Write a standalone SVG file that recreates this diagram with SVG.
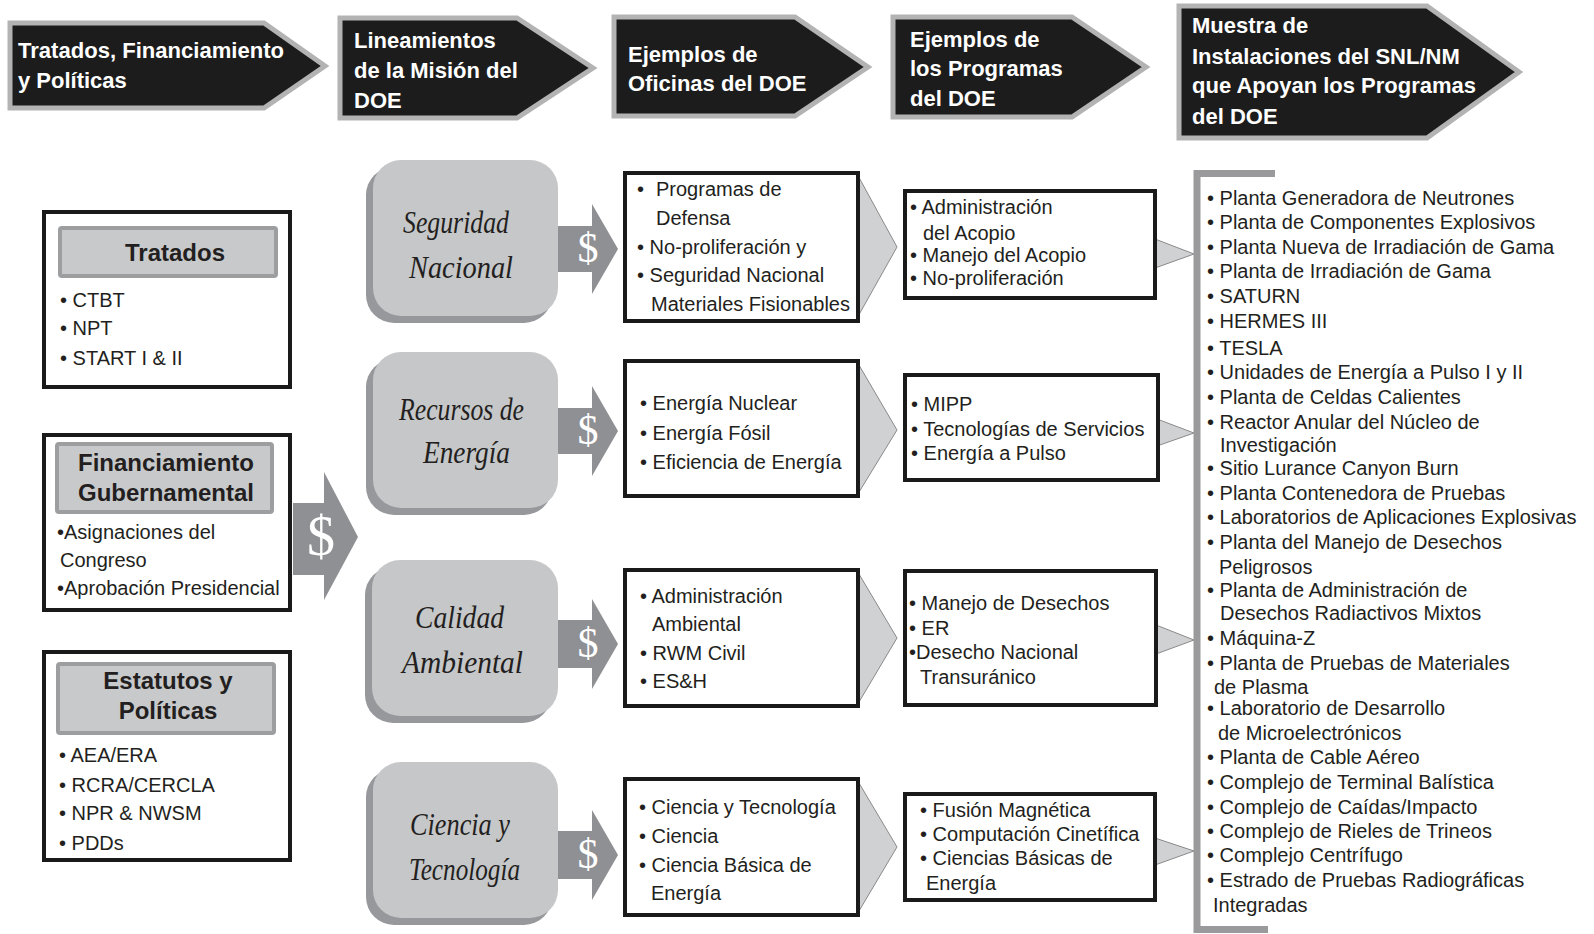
<svg xmlns="http://www.w3.org/2000/svg" width="1594" height="934" viewBox="0 0 1594 934">
<style>
.hdr{font-family:"Liberation Sans",Arial,sans-serif;font-weight:bold;font-size:22px;fill:#fff}
.hdrbox{fill:#1c1c1c;stroke:#b3b3b3;stroke-width:5;stroke-linejoin:miter}
.t{font-family:"Liberation Sans",Arial,sans-serif;font-size:20px;fill:#231f20}
.hb{font-family:"Liberation Sans",Arial,sans-serif;font-weight:bold;font-size:24px;fill:#231f20;text-anchor:middle}
.mis{font-family:"Liberation Serif","Times New Roman",serif;font-style:italic;font-size:32px;fill:#231f20}
.dol{font-family:"Liberation Serif","Times New Roman",serif;fill:#fff;text-anchor:middle}
.box{fill:#fff;stroke:#1a1a1a;stroke-width:4}
.hbox{fill:#c8c9cb;stroke:#9d9ea0;stroke-width:4}
.face{fill:#c6c7c9}
.shadow{fill:#97989b}
.arr{fill:#8f9093}
.tri{fill:#d0d1d3;stroke:#8a8a8a;stroke-width:1}
</style>

<!-- Header arrows -->
<g id="hdr1">
<polygon class="hdrbox" points="10,23 264,23 325,66 264,108 10,108"/>
<text class="hdr" x="18" y="58" textLength="266" lengthAdjust="spacingAndGlyphs">Tratados, Financiamiento</text>
<text class="hdr" x="18" y="88">y Políticas</text>
</g>
<g id="hdr2">
<polygon class="hdrbox" points="340,18 517,18 593,68 517,118 340,118"/>
<text class="hdr" x="354" y="48">Lineamientos</text>
<text class="hdr" x="354" y="78">de la Misión del</text>
<text class="hdr" x="354" y="108">DOE</text>
</g>
<g id="hdr3">
<polygon class="hdrbox" points="614,17 795,17 868,67 795,116 614,116"/>
<text class="hdr" x="628" y="62">Ejemplos de</text>
<text class="hdr" x="628" y="91">Oficinas del DOE</text>
</g>
<g id="hdr4">
<polygon class="hdrbox" points="893,17 1072,17 1146,67 1072,117 893,117"/>
<text class="hdr" x="910" y="47">Ejemplos de</text>
<text class="hdr" x="910" y="76">los Programas</text>
<text class="hdr" x="910" y="106">del DOE</text>
</g>
<g id="hdr5">
<polygon class="hdrbox" points="1179,6 1427,6 1519,72 1427,138 1179,138"/>
<text class="hdr" x="1192" y="33">Muestra de</text>
<text class="hdr" x="1192" y="64">Instalaciones del SNL/NM</text>
<text class="hdr" x="1192" y="93">que Apoyan los Programas</text>
<text class="hdr" x="1192" y="124">del DOE</text>
</g>

<!-- Connectors -->
<g id="connectors">
<polygon class="arr" points="293,503 324,503 324,472 358,537 324,600 324,575 293,575"/>
<text class="dol" x="321" y="555" font-size="56">$</text>
<polygon class="arr" points="558,226 592,226 592,204 618,249 592,294 592,272 558,272"/>
<text class="dol" x="588" y="262" font-size="42">$</text>
<polygon class="arr" points="558,408 592,408 592,386 618,431 592,476 592,454 558,454"/>
<text class="dol" x="588" y="444" font-size="42">$</text>
<polygon class="arr" points="558,620 592,620 592,599 618,644 592,689 592,668 558,668"/>
<text class="dol" x="588" y="657" font-size="42">$</text>
<polygon class="arr" points="558,831 592,831 592,810 618,855 592,900 592,879 558,879"/>
<text class="dol" x="588" y="868" font-size="42">$</text>
<polygon class="tri" points="856,172 897,247 856,320"/>
<polygon class="tri" points="856,360 897,430 856,497"/>
<polygon class="tri" points="856,569 897,638 856,707"/>
<polygon class="tri" points="856,778 897,847 856,916"/>
<polygon class="tri" points="1155,239 1194,254 1155,268"/>
<polygon class="tri" points="1157,419 1194,433 1157,446"/>
<polygon class="tri" points="1156,625 1194,640 1156,654"/>
<polygon class="tri" points="1155,838 1194,851 1155,865"/>
<polyline points="1275,173.5 1197,173.5 1197,929.5 1268,929.5" fill="none" stroke="#9a9a9c" stroke-width="7"/>
</g>

<!-- Left boxes -->
<g id="tratados">
<rect class="box" x="44" y="212" width="246" height="175"/>
<rect class="hbox" x="60" y="228" width="216" height="48" rx="2"/>
<text class="hb" x="175" y="261">Tratados</text>
<text class="t" x="60" y="307">• CTBT</text>
<text class="t" x="60" y="335">• NPT</text>
<text class="t" x="60" y="365">• START I &amp; II</text>
</g>
<g id="financiamiento">
<rect class="box" x="44" y="435" width="246" height="175"/>
<rect class="hbox" x="57" y="444" width="215" height="68" rx="2"/>
<text class="hb" x="166" y="471">Financiamiento</text>
<text class="hb" x="166" y="501">Gubernamental</text>
<text class="t" x="57" y="539">•Asignaciones del</text>
<text class="t" x="60" y="567">Congreso</text>
<text class="t" x="57" y="595">•Aprobación Presidencial</text>
</g>
<g id="estatutos">
<rect class="box" x="44" y="652" width="246" height="208"/>
<rect class="hbox" x="58" y="664" width="216" height="69" rx="2"/>
<text class="hb" x="168" y="689">Estatutos y</text>
<text class="hb" x="168" y="719">Políticas</text>
<text class="t" x="59" y="762">• AEA/ERA</text>
<text class="t" x="59" y="792">• RCRA/CERCLA</text>
<text class="t" x="59" y="820">• NPR &amp; NWSM</text>
<text class="t" x="59" y="850">• PDDs</text>
</g>

<!-- Mission boxes -->
<g id="seguridad">
<rect class="shadow" x="366" y="167" width="186" height="156" rx="28"/>
<rect class="face" x="373" y="160" width="185" height="156" rx="28"/>
<text class="mis" x="403" y="233" textLength="106" lengthAdjust="spacingAndGlyphs">Seguridad</text>
<text class="mis" x="409" y="278" textLength="104" lengthAdjust="spacingAndGlyphs">Nacional</text>
</g>
<g id="recursos">
<rect class="shadow" x="366" y="359" width="186" height="156" rx="28"/>
<rect class="face" x="373" y="352" width="185" height="156" rx="28"/>
<text class="mis" x="399" y="420" textLength="125" lengthAdjust="spacingAndGlyphs">Recursos de</text>
<text class="mis" x="423" y="463" textLength="87" lengthAdjust="spacingAndGlyphs">Energía</text>
</g>
<g id="calidad">
<rect class="shadow" x="365" y="567" width="186" height="156" rx="28"/>
<rect class="face" x="372" y="560" width="186" height="156" rx="28"/>
<text class="mis" x="415" y="628" textLength="89" lengthAdjust="spacingAndGlyphs">Calidad</text>
<text class="mis" x="402" y="673" textLength="121" lengthAdjust="spacingAndGlyphs">Ambiental</text>
</g>
<g id="ciencia">
<rect class="shadow" x="366" y="769" width="186" height="156" rx="28"/>
<rect class="face" x="373" y="762" width="185" height="156" rx="28"/>
<text class="mis" x="410" y="835" textLength="100" lengthAdjust="spacingAndGlyphs">Ciencia y</text>
<text class="mis" x="409" y="880" textLength="111" lengthAdjust="spacingAndGlyphs">Tecnología</text>
</g>

<!-- Office boxes -->
<g id="of1">
<rect class="box" x="625" y="173" width="233" height="148"/>
<text class="t" x="637" y="196">•</text>
<text class="t" x="656" y="196">Programas de</text>
<text class="t" x="656" y="225">Defensa</text>
<text class="t" x="637" y="254">• No-proliferación y</text>
<text class="t" x="637" y="282">• Seguridad Nacional</text>
<text class="t" x="651" y="311">Materiales Fisionables</text>
</g>
<g id="of2">
<rect class="box" x="625" y="361" width="233" height="135"/>
<text class="t" x="640" y="410">• Energía Nuclear</text>
<text class="t" x="640" y="440">• Energía Fósil</text>
<text class="t" x="640" y="469">• Eficiencia de Energía</text>
</g>
<g id="of3">
<rect class="box" x="625" y="570" width="233" height="136"/>
<text class="t" x="640" y="603">• Administración</text>
<text class="t" x="652" y="631">Ambiental</text>
<text class="t" x="640" y="660">• RWM Civil</text>
<text class="t" x="640" y="688">• ES&amp;H</text>
</g>
<g id="of4">
<rect class="box" x="625" y="779" width="233" height="136"/>
<text class="t" x="639" y="814">• Ciencia y Tecnología</text>
<text class="t" x="639" y="843">• Ciencia</text>
<text class="t" x="639" y="872">• Ciencia Básica de</text>
<text class="t" x="651" y="900">Energía</text>
</g>

<!-- Program boxes -->
<g id="pr1">
<rect class="box" x="905" y="191" width="250" height="107"/>
<text class="t" x="910" y="214">• Administración</text>
<text class="t" x="923" y="240">del Acopio</text>
<text class="t" x="910" y="262">• Manejo del Acopio</text>
<text class="t" x="910" y="285">• No-proliferación</text>
</g>
<g id="pr2">
<rect class="box" x="905" y="375" width="253" height="105"/>
<text class="t" x="911" y="411">• MIPP</text>
<text class="t" x="911" y="436">• Tecnologías de Servicios</text>
<text class="t" x="911" y="460">• Energía a Pulso</text>
</g>
<g id="pr3">
<rect class="box" x="905" y="571" width="251" height="134"/>
<text class="t" x="909" y="610">• Manejo de Desechos</text>
<text class="t" x="909" y="635">• ER</text>
<text class="t" x="909" y="659">•Desecho Nacional</text>
<text class="t" x="920" y="684">Transuránico</text>
</g>
<g id="pr4">
<rect class="box" x="905" y="794" width="250" height="106"/>
<text class="t" x="920" y="817">• Fusión Magnética</text>
<text class="t" x="920" y="841">• Computación Cinetífica</text>
<text class="t" x="920" y="865">• Ciencias Básicas de</text>
<text class="t" x="926" y="890">Energía</text>
</g>

<!-- Facilities list -->
<g id="instalaciones">
<text class="t" x="1207" y="205">• Planta Generadora de Neutrones</text>
<text class="t" x="1207" y="229">• Planta de Componentes Explosivos</text>
<text class="t" x="1207" y="254">• Planta Nueva de Irradiación de Gama</text>
<text class="t" x="1207" y="278">• Planta de Irradiación de Gama</text>
<text class="t" x="1207" y="303">• SATURN</text>
<text class="t" x="1207" y="328">• HERMES III</text>
<text class="t" x="1207" y="355">• TESLA</text>
<text class="t" x="1207" y="379">• Unidades de Energía a Pulso I y II</text>
<text class="t" x="1207" y="404">• Planta de Celdas Calientes</text>
<text class="t" x="1207" y="429">• Reactor Anular del Núcleo de</text>
<text class="t" x="1220" y="452">Investigación</text>
<text class="t" x="1207" y="475">• Sitio Lurance Canyon Burn</text>
<text class="t" x="1207" y="500">• Planta Contenedora de Pruebas</text>
<text class="t" x="1207" y="524">• Laboratorios de Aplicaciones Explosivas</text>
<text class="t" x="1207" y="549">• Planta del Manejo de Desechos</text>
<text class="t" x="1219" y="574">Peligrosos</text>
<text class="t" x="1207" y="597">• Planta de Administración de</text>
<text class="t" x="1220" y="620">Desechos Radiactivos Mixtos</text>
<text class="t" x="1207" y="645">• Máquina-Z</text>
<text class="t" x="1207" y="670">• Planta de Pruebas de Materiales</text>
<text class="t" x="1214" y="694">de Plasma</text>
<text class="t" x="1207" y="715">• Laboratorio de Desarrollo</text>
<text class="t" x="1218" y="740">de Microelectrónicos</text>
<text class="t" x="1207" y="764">• Planta de Cable Aéreo</text>
<text class="t" x="1207" y="789">• Complejo de Terminal Balística</text>
<text class="t" x="1207" y="814">• Complejo de Caídas/Impacto</text>
<text class="t" x="1207" y="838">• Complejo de Rieles de Trineos</text>
<text class="t" x="1207" y="862">• Complejo Centrífugo</text>
<text class="t" x="1207" y="887">• Estrado de Pruebas Radiográficas</text>
<text class="t" x="1213" y="912">Integradas</text>
</g>
</svg>
